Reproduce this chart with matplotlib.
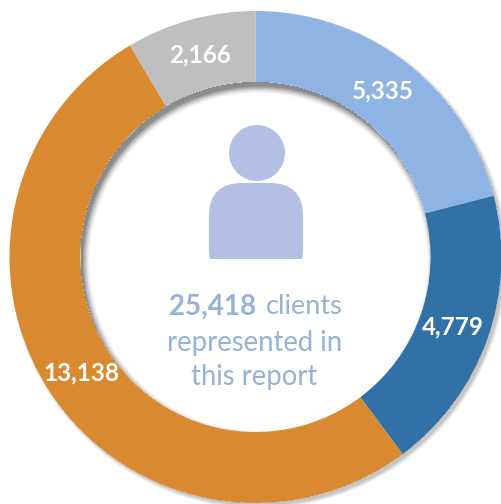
import numpy as np
import matplotlib
matplotlib.use("Agg")
import matplotlib.pyplot as plt
from matplotlib.patches import Circle, FancyBboxPatch, Rectangle

plt.rcParams['font.family'] = ['Lato', 'DejaVu Sans']

values = [5335, 4779, 13138, 2166]
labels = ['5,335', '4,779', '13,138', '2,166']
colors = ['#8EB4E3', '#3271A6', '#D98930', '#BFBFBF']
icon_color = '#B2C1E3'
text_color = '#95B3D7'

fig = plt.figure(figsize=(5.01, 5.04), dpi=100)
ax = fig.add_axes([0, 0, 1, 1])

cx, cy, R = 255.5, 257, 246
r_in = 175

# shadows as an RGBA image: inner one falls from the top left, outer one to the lower right
yy, xx = np.mgrid[0:504, 0:501] + 0.5
d_centre = np.hypot(xx - cx, yy - cy)
d_inner = np.hypot(xx - (cx + 3), yy - (cy + 5))
d_outer = np.hypot(xx - (cx + 3), yy - (cy + 3))
alpha = np.zeros(xx.shape)
inside = d_centre < r_in
alpha[inside] = 0.6 * np.clip((d_inner[inside] - (r_in - 7)) / 8, 0, 1) ** 1.5
outside = d_centre >= R
alpha[outside] = 0.3 * np.clip(1 - (d_outer[outside] - R + 1) / 4, 0, 1)
shadow = np.zeros(xx.shape + (4,))
shadow[..., :3] = 0.25
shadow[..., 3] = alpha

# y axis is flipped below, so the pie runs clockwise when counterclock=True
ax.pie(values, colors=colors, startangle=-90, center=(cx, cy), radius=R,
       counterclock=True, wedgeprops=dict(width=R - r_in, edgecolor='none'), frame=True)
ax.imshow(shadow, extent=(0, 501, 504, 0), zorder=3, interpolation='bilinear')
ax.set_xlim(0, 501)
ax.set_ylim(504, 0)
ax.set_aspect('equal')
ax.axis('off')

# value labels
label_pos = [(383, 91), (453, 327), (81, 373), (200, 55)]
for s, (x, y) in zip(labels, label_pos):
    ax.text(x, y, s, color='white', fontsize=17.5, fontweight='bold', ha='center', va='center', zorder=5)

# person icon
ax.add_patch(Circle((257, 153), 28, fc=icon_color, ec='none', zorder=4))
ax.add_patch(FancyBboxPatch((209, 183), 94, 100, boxstyle='round,pad=0,rounding_size=33',
                            fc=icon_color, ec='none', zorder=4))
ax.add_patch(Rectangle((205, 259), 102, 30, fc='white', ec='none', zorder=4))

ax.text(169, 307, '25,418', color=text_color, fontsize=20, fontweight='bold', ha='left', va='center', zorder=5)
ax.text(266, 307, 'clients', color=text_color, fontsize=19.5, ha='left', va='center', zorder=5)
ax.text(255, 343, 'represented in', color=text_color, fontsize=19.8, ha='center', va='center', zorder=5)
ax.text(254, 377, 'this report', color=text_color, fontsize=19.8, ha='center', va='center', zorder=5)

fig.savefig('out.png', dpi=100)
